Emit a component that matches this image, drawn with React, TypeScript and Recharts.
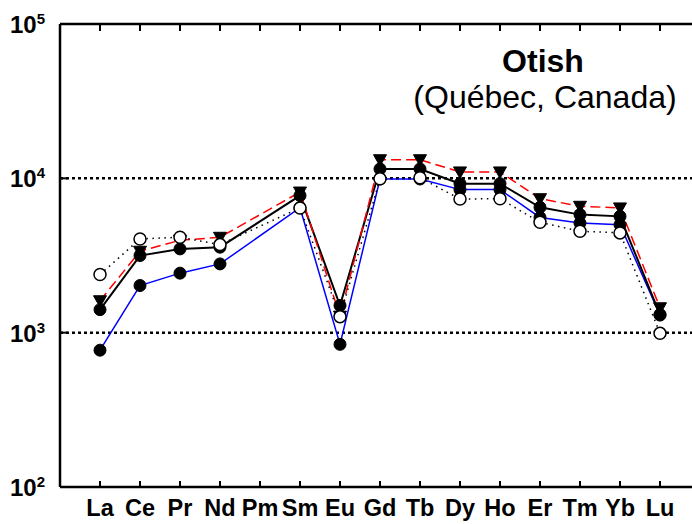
import { Line, LineChart, ReferenceLine, XAxis, YAxis } from "recharts";

// REE pattern, Otish (Québec, Canada) — chondrite-normalised, log scale
const ELEMENTS = ["La", "Ce", "Pr", "Nd", "Pm", "Sm", "Eu", "Gd", "Tb", "Dy", "Ho", "Er", "Tm", "Yb", "Lu"];
const blueSeries = [770, 2020, 2430, 2790, null, 6450, 840, 9900, 9900, 8450, 8450, 5580, 5130, 5010, 1300];
const blackSeries = [1410, 3160, 3490, 3580, null, 7730, 1500, 11500, 11500, 9240, 9240, 6490, 5820, 5670, 1310];
const redSeries = [1610, 3370, 3970, 4150, null, 8150, 1280, 13200, 13200, 11000, 11000, 7380, 6590, 6430, 1450];
const openSeries = [2380, 4050, 4150, 3720, null, 6430, 1270, 9950, 10100, 7340, 7380, 5190, 4540, 4430, 990];
const Y_TICKS = [100, 1000, 10000, 100000];
const X_TICKS = ELEMENTS.map((_, i) => i);

const data = ELEMENTS.map((el, i) => ({
  idx: i,
  el,
  blue: blueSeries[i],
  black: blackSeries[i],
  red: redSeries[i],
  open: openSeries[i],
}));

const FONT = '"Liberation Sans", Arial, Helvetica, sans-serif';
const AXIS_LINE = { stroke: "#000", strokeWidth: 2.5 };

function BottomTick({ x, y, payload }: any) {
  return (
    <g>
      <line x1={x} x2={x} y1={y} y2={y - 6} stroke="#000" strokeWidth={2} />
      <text x={x} y={y + 29} textAnchor="middle" fontSize={23.5} fontWeight="bold" fontFamily={FONT} fill="#000">
        {ELEMENTS[payload.value]}
      </text>
    </g>
  );
}

function TopTick({ x, y }: any) {
  return <line x1={x} x2={x} y1={y} y2={y + 7} stroke="#000" strokeWidth={2} />;
}

function LeftTick({ x, y, payload }: any) {
  const exp = Math.round(Math.log10(payload.value));
  return (
    <g>
      <line x1={x} x2={x + 8} y1={y} y2={y} stroke="#000" strokeWidth={2} />
      <text x={x - 15} y={y + 9} textAnchor="end" fontSize={24} fontWeight="bold" fontFamily={FONT} fill="#000">
        10
        <tspan dy={-9} fontSize={15}>
          {exp}
        </tspan>
      </text>
    </g>
  );
}

const filledDot = (props: any) => {
  const { cx, cy, index, value } = props;
  if (cx == null || cy == null || value == null) return <g key={`f-${index}`} />;
  return <circle key={`f-${index}`} cx={cx} cy={cy} r={6} fill="#000" stroke="#000" strokeWidth={1} />;
};

const openDot = (props: any) => {
  const { cx, cy, index, value } = props;
  if (cx == null || cy == null || value == null) return <g key={`o-${index}`} />;
  return <circle key={`o-${index}`} cx={cx} cy={cy} r={6} fill="#fff" stroke="#000" strokeWidth={1.5} />;
};

const triangleDot = (props: any) => {
  const { cx, cy, index, value } = props;
  if (cx == null || cy == null || value == null) return <g key={`t-${index}`} />;
  return (
    <path
      key={`t-${index}`}
      d={`M${cx - 6.5},${cy - 5} L${cx + 6.5},${cy - 5} L${cx},${cy + 6.5} Z`}
      fill="#000"
      stroke="#000"
      strokeWidth={1}
    />
  );
};

export default function App() {
  return (
    <div style={{ position: "absolute", left: 0, top: 0, width: 692, height: 524, background: "#fff" }}>
      <LineChart width={692} height={524} data={data} margin={{ top: 0, right: 0, bottom: 0, left: 0 }}>
        <XAxis
          dataKey="idx"
          type="number"
          domain={[-1, 14.8]}
          ticks={X_TICKS}
          interval={0}
          height={37}
          tickSize={0}
          tickMargin={0}
          tickLine={false}
          axisLine={AXIS_LINE}
          tick={<BottomTick />}
          allowDataOverflow
        />
        <XAxis
          xAxisId="top"
          orientation="top"
          dataKey="idx"
          type="number"
          domain={[-1, 14.8]}
          ticks={X_TICKS}
          interval={0}
          height={24}
          tickSize={0}
          tickMargin={0}
          tickLine={false}
          axisLine={AXIS_LINE}
          tick={<TopTick />}
          allowDataOverflow
        />
        <YAxis
          scale="log"
          type="number"
          domain={[100, 100000]}
          ticks={Y_TICKS}
          interval={0}
          width={60}
          tickSize={0}
          tickMargin={0}
          tickLine={false}
          axisLine={AXIS_LINE}
          tick={<LeftTick />}
          allowDataOverflow
        />
        <ReferenceLine y={1000} stroke="#000" strokeWidth={2.5} strokeDasharray="3 3" />
        <ReferenceLine y={10000} stroke="#000" strokeWidth={2.5} strokeDasharray="3 3" />
        <Line
          dataKey="blue"
          stroke="#0000ff"
          strokeWidth={1.5}
          dot={filledDot}
          activeDot={false}
          connectNulls
          isAnimationActive={false}
        />
        <Line
          dataKey="black"
          stroke="#000"
          strokeWidth={2}
          dot={filledDot}
          activeDot={false}
          connectNulls
          isAnimationActive={false}
        />
        <Line
          dataKey="red"
          stroke="#ff0000"
          strokeWidth={1.5}
          strokeDasharray="10 5"
          dot={triangleDot}
          activeDot={false}
          connectNulls
          isAnimationActive={false}
        />
        <Line
          dataKey="open"
          stroke="#000"
          strokeWidth={1.5}
          strokeDasharray="1.5 4.5"
          dot={openDot}
          activeDot={false}
          connectNulls
          isAnimationActive={false}
        />
      </LineChart>
      <svg width={692} height={524} style={{ position: "absolute", left: 0, top: 0, pointerEvents: "none" }}>
        <text x={543} y={72} textAnchor="middle" fontSize={32} fontWeight="bold" fontFamily={FONT} fill="#000">
          Otish
        </text>
        <text x={545} y={108} textAnchor="middle" fontSize={32} fontFamily={FONT} fill="#000">
          (Québec, Canada)
        </text>
      </svg>
    </div>
  );
}
